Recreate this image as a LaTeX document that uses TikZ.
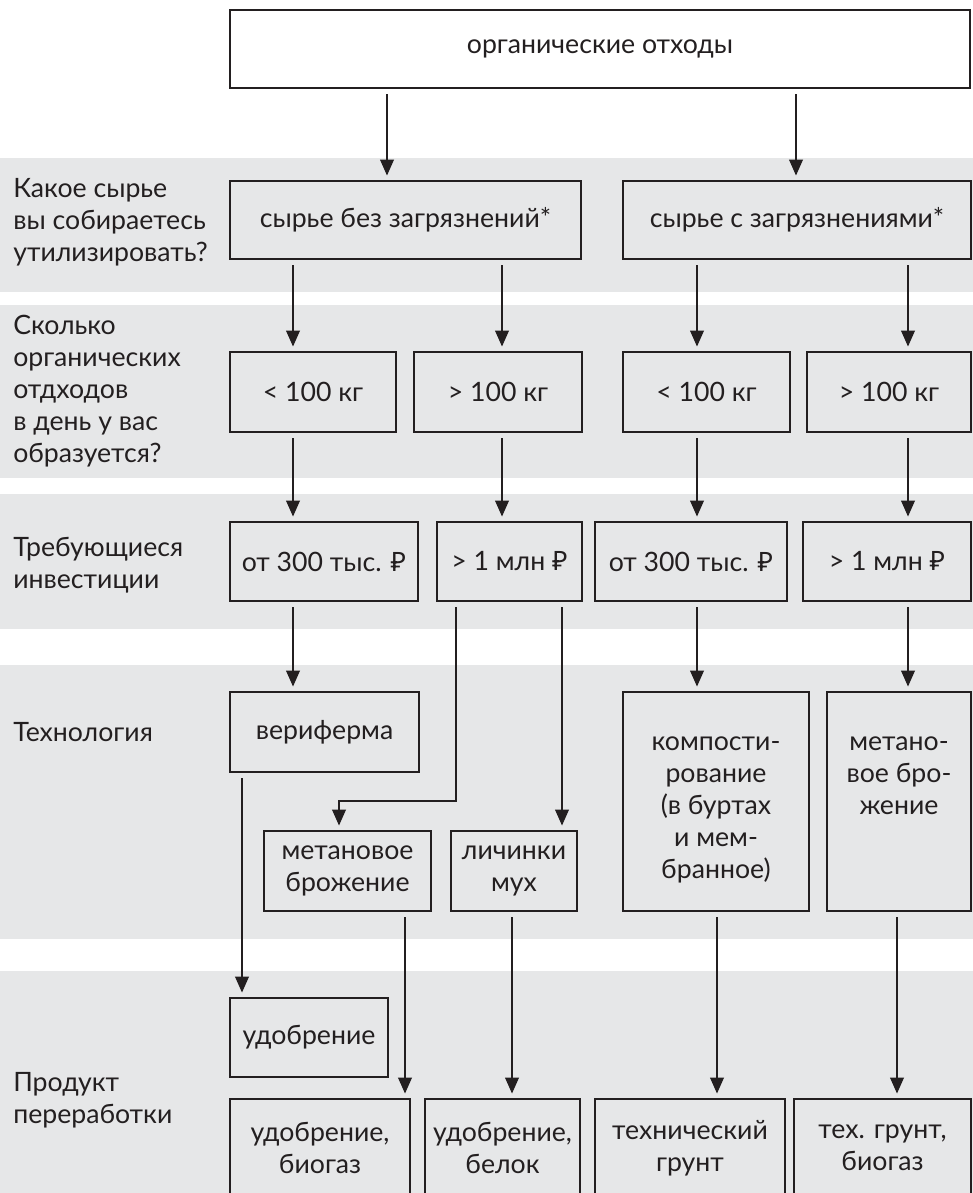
\documentclass[tikz,border=0pt]{standalone}
\usepackage{fontspec}
\setmainfont{Lato}
\newfontfamily\rubfont{Noto Sans}
\newcommand\rub{{\rubfont ₽}}
\usetikzlibrary{arrows.meta}
\definecolor{band}{HTML}{E6E7E8}
\definecolor{ink}{HTML}{231F20}
\begin{document}
\begin{tikzpicture}[x=0.75pt,y=-0.75pt,
  txtfont/.style={font=\fontsize{20}{24}\selectfont},
  box/.style={draw=ink, line width=2pt, text=ink, align=center, inner sep=0pt, txtfont},
  inner/.style={text=ink, align=center, inner sep=0pt, txtfont},
  sz/.style 2 args={minimum width=#1*0.75pt, minimum height=#2*0.75pt},
  lbl/.style={text=ink, align=left, anchor=west, inner sep=0pt, txtfont},
  arr/.style={draw=ink, line width=1.9pt, -{Triangle[length=12pt,width=10pt]}, shorten <=3.5pt, shorten >=3pt}
  ]
\useasboundingbox (0,0) rectangle (973,1193);
\clip (0,0) rectangle (973,1193);
\fill[white] (0,0) rectangle (973,1193);
% bands
\fill[band] (0,158) rectangle (973,292);
\fill[band] (0,305) rectangle (973,478);
\fill[band] (0,494) rectangle (973,629);
\fill[band] (0,665) rectangle (973,939);
\fill[band] (0,971) rectangle (973,1193);

% left labels
\node[lbl] (q1) at (13,222) {Какое сырье\\вы собираетесь\\утилизировать?};
\node[lbl] (q2) at (13,391) {Сколько\\органических\\отдходов\\в день у вас\\образуется?};
\node[lbl] (q3) at (13,565) {Требующиеся\\инвестиции};
\node[lbl] (q4) at (13,732) {Технология};
\node[lbl] (q5) at (13,1100) {Продукт\\переработки};

% boxes
\node[box, fill=white, sz={740}{78}] (top) at (600,49) {органические отходы};
\node[box, sz={351}{78}] (r1a) at (405.5,220) {сырье без загрязнений*};
\node[box, sz={348}{78}] (r1b) at (797,220) {сырье с загрязнениями*};

\node[box, sz={166}{80}] (r2a) at (313,392) {< 100 кг};
\node[box, sz={168}{80}] (r2b) at (498,392) {> 100 кг};
\node[box, sz={167}{80}] (r2c) at (706.5,392) {< 100 кг};
\node[box, sz={164}{80}] (r2d) at (889,392) {> 100 кг};

\node[box, sz={188}{79}] (r3a) at (324,561.5) {от 300 тыс. \rub};
\node[box, sz={145}{79}] (r3b) at (509.5,561.5) {> 1 млн \rub};
\node[box, sz={192}{79}] (r3c) at (691,561.5) {от 300 тыс. \rub};
\node[box, sz={168}{79}] (r3d) at (887,561.5) {> 1 млн \rub};

\node[box, sz={189}{80}] (r4a) at (324.5,732) {вериферма};
\node[box, sz={186}{219}] (r4c) at (716,801.5) {};
\node[inner] (r4ct) at ([yshift=-6pt]r4c.center) {компости-\\рование\\(в буртах\\и мем-\\бранное)};
\node[box, sz={144}{219}] (r4d) at (899,801.5) {};
\node[inner, anchor=north] (r4dt) at (r4ct.north -| r4d.center) {метано-\\вое бро-\\жение};
\node[box, sz={167}{80}] (r4b) at (347.5,871) {метановое\\брожение};
\node[box, sz={126}{80}] (r4e) at (514,871) {личинки\\мух};

\node[box, sz={158}{79}] (r5a) at (309,1037.5) {удобрение};
\node[box, sz={180}{98}] (r6a) at (320,1148) {удобрение,\\биогаз};
\node[box, sz={155}{98}] (r6b) at (502.5,1148) {удобрение,\\белок};
\node[box, sz={190}{98}] (r6c) at (690,1148) {технический\\грунт};
\node[box, sz={177}{98}] (r6d) at (882.5,1148) {тех. грунт,\\биогаз};

% x positions of connectors
\coordinate (xA) at (387,0);
\coordinate (xB) at (796,0);
\coordinate (x1) at (293,0);
\coordinate (x2) at (502,0);
\coordinate (x3) at (697,0);
\coordinate (x4) at (908,0);
\coordinate (x5) at (456,0);
\coordinate (x6) at (339,0);
\coordinate (x7) at (562,0);
\coordinate (x8) at (242,0);
\coordinate (x9) at (405,0);
\coordinate (x10) at (512,0);
\coordinate (x11) at (717,0);
\coordinate (x12) at (897,0);
\coordinate (yb) at (0,801);

% connectors
\draw[arr] (top.south -| xA) -- (r1a.north -| xA);
\draw[arr] (top.south -| xB) -- (r1b.north -| xB);

\draw[arr] (r1a.south -| x1) -- (r2a.north -| x1);
\draw[arr] (r1a.south -| x2) -- (r2b.north -| x2);
\draw[arr] (r1b.south -| x3) -- (r2c.north -| x3);
\draw[arr] (r1b.south -| x4) -- (r2d.north -| x4);

\draw[arr] (r2a.south -| x1) -- (r3a.north -| x1);
\draw[arr] (r2b.south -| x2) -- (r3b.north -| x2);
\draw[arr] (r2c.south -| x3) -- (r3c.north -| x3);
\draw[arr] (r2d.south -| x4) -- (r3d.north -| x4);

\draw[arr] (r3a.south -| x1) -- (r4a.north -| x1);
\draw[arr] (r3b.south -| x5) -- (x5 |- yb) -- (x6 |- yb) -- (r4b.north -| x6);
\draw[arr] (r3b.south -| x7) -- (r4e.north -| x7);
\draw[arr] (r3c.south -| x3) -- (r4c.north -| x3);
\draw[arr] (r3d.south -| x4) -- (r4d.north -| x4);

\draw[arr] (r4a.south -| x8) -- (r5a.north -| x8);
\draw[arr] (r4b.south -| x9) -- (r6a.north -| x9);
\draw[arr] (r4e.south -| x10) -- (r6b.north -| x10);
\draw[arr] (r4c.south -| x11) -- (r6c.north -| x11);
\draw[arr] (r4d.south -| x12) -- (r6d.north -| x12);
\end{tikzpicture}
\end{document}
